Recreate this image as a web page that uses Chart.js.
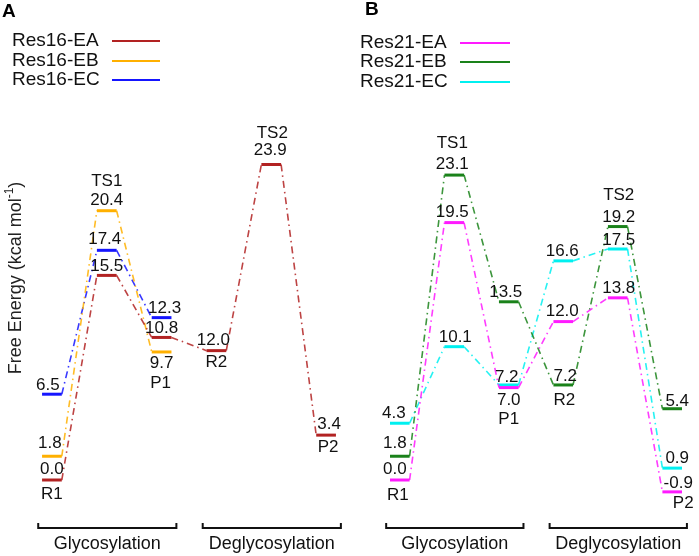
<!DOCTYPE html>
<html lang="en">
<head>
    <meta charset="UTF-8">
    <title>Free energy profiles</title>
    <script src="https://cdn.jsdelivr.net/npm/chart.js"></script>
    <style>
        body { margin: 0; background: #fff; }
        #wrap { position: relative; width: 699px; height: 556px; }
        canvas { position: absolute; top: 0; }
    </style>
</head>
<body>
    <div id="wrap">
        <canvas id="chartA" width="350" height="556" style="left:0"></canvas>
        <canvas id="chartB" width="349" height="556" style="left:350px"></canvas>
    </div>

    <script>
        // states along the reaction path
        const states = ['R1', 'TS1', 'P1', 'R2', 'TS2', 'P2'];
        const stages = ['Glycosylation', 'Deglycosylation'];
        const stageStates = [[0, 2], [3, 5]];

        // Panel A (kcal/mol), levels as drawn
        const res16EA = [0.0, 15.5, 10.8, 9.8, 23.9, 3.4];
        const res16EB = [1.8, 20.4, 9.7, null, null, null];
        const res16EC = [6.5, 17.4, 12.3, null, null, null];
        // printed values (R2 of EA is drawn lower than its label)
        const res16EALabels = ['0.0', '15.5', '10.8', '12.0', '23.9', '3.4'];

        // Panel B (kcal/mol)
        const res21EA = [0.0, 19.5, 7.0, 12.0, 13.8, -0.9];
        const res21EB = [1.8, 23.1, 13.5, 7.2, 19.2, 5.4];
        const res21EC = [4.3, 10.1, 7.2, 16.6, 17.5, 0.9];

        Chart.defaults.font.family = '"Liberation Sans", Arial, sans-serif';
        Chart.defaults.color = '#111';

        const HALF = 0.18; // half width of an energy level, in state units

        function fmt(v) { return v.toFixed(1); }

        // two points per level, connectors join right end to next left end
        function levelPoints(values) {
            const pts = [];
            values.forEach((v, i) => {
                if (v === null) return;
                pts.push({ x: i - HALF, y: v });
                pts.push({ x: i + HALF, y: v });
            });
            return pts;
        }

        function withAlpha(hex, a) {
            const n = parseInt(hex.slice(1), 16);
            return `rgba(${n >> 16}, ${(n >> 8) & 255}, ${n & 255}, ${a})`;
        }

        function makeDataset(label, values, color, labels, offsets) {
            return {
                label: label,
                data: levelPoints(values),
                values: values,
                valueLabels: labels || values.map(v => v === null ? null : fmt(v)),
                offsets: offsets,
                borderColor: color,
                pointRadius: 0,
                tension: 0,
                borderWidth: 3,
                segment: {
                    borderDash: ctx => ctx.p0DataIndex % 2 === 0 ? undefined : [7, 4, 1.5, 4],
                    borderWidth: ctx => ctx.p0DataIndex % 2 === 0 ? 3 : 1.6,
                    borderColor: ctx => ctx.p0DataIndex % 2 === 0 ? color : withAlpha(color, 0.85)
                }
            };
        }

        // annotations: values, state names, stage brackets, legend, titles
        const annotate = {
            id: 'annotate',
            afterDatasetsDraw(chart, args, opts) {
                const ctx = chart.ctx;
                const xs = chart.scales.x;
                const ys = chart.scales.y;
                ctx.save();
                ctx.fillStyle = '#111';
                ctx.textAlign = 'center';
                ctx.textBaseline = 'middle';

                // value labels
                ctx.font = '17px "Liberation Sans", Arial, sans-serif';
                chart.data.datasets.forEach(ds => {
                    ds.values.forEach((v, i) => {
                        if (v === null) return;
                        const off = ds.offsets[i];
                        ctx.fillText(ds.valueLabels[i], xs.getPixelForValue(i) + off[0], ys.getPixelForValue(v) + off[1]);
                    });
                });

                // state names above the highest or below the lowest level
                states.forEach((s, i) => {
                    const vals = chart.data.datasets.map(ds => ds.values[i]).filter(v => v !== null);
                    if (!vals.length) return;
                    const o = opts.stateOffsets[i];
                    const ref = o[1] < 0 ? Math.max(...vals) : Math.min(...vals);
                    ctx.fillText(s, xs.getPixelForValue(i) + o[0], ys.getPixelForValue(ref) + o[1]);
                });

                // stage brackets
                ctx.font = '18px "Liberation Sans", Arial, sans-serif';
                ctx.strokeStyle = '#111';
                ctx.lineWidth = 2;
                stages.forEach((name, k) => {
                    const x0 = xs.getPixelForValue(stageStates[k][0] - 0.25);
                    const x1 = xs.getPixelForValue(stageStates[k][1] + 0.27);
                    ctx.beginPath();
                    ctx.moveTo(x0, 523);
                    ctx.lineTo(x0, 528);
                    ctx.lineTo(x1, 528);
                    ctx.lineTo(x1, 523);
                    ctx.stroke();
                    ctx.fillText(name, (x0 + x1) / 2, 544);
                });

                // legend: text then a solid line
                ctx.textAlign = 'left';
                ctx.font = '19px "Liberation Sans", Arial, sans-serif';
                chart.data.datasets.forEach((ds, k) => {
                    const y = opts.legendY[k];
                    ctx.fillStyle = '#111';
                    ctx.fillText(ds.label, opts.legendX, y);
                    ctx.strokeStyle = ds.borderColor;
                    ctx.lineWidth = 2;
                    ctx.beginPath();
                    ctx.moveTo(opts.legendLine[0], y);
                    ctx.lineTo(opts.legendLine[1], y);
                    ctx.stroke();
                });

                // panel letter
                ctx.fillStyle = '#000';
                ctx.font = 'bold 19px "Liberation Sans", Arial, sans-serif';
                ctx.fillText(opts.letter, opts.letterPos[0], opts.letterPos[1]);

                // y axis title with superscript
                if (opts.yTitle) {
                    ctx.translate(16, 278);
                    ctx.rotate(-Math.PI / 2);
                    const main = 'Free Energy (kcal mol';
                    const big = '18px "Liberation Sans", Arial, sans-serif';
                    const small = '12px "Liberation Sans", Arial, sans-serif';
                    ctx.font = big;
                    const w1 = ctx.measureText(main).width;
                    const w3 = ctx.measureText(')').width;
                    ctx.font = small;
                    const w2 = ctx.measureText('-1').width;
                    let x = -(w1 + w2 + w3) / 2;
                    ctx.font = big;
                    ctx.fillStyle = '#222';
                    ctx.fillText(main, x, 0);
                    x += w1;
                    ctx.font = small;
                    ctx.fillText('-1', x, -6);
                    x += w2;
                    ctx.font = big;
                    ctx.fillText(')', x, 0);
                }
                ctx.restore();
            }
        };

        function makeChart(id, datasets, padding, annotateOpts) {
            return new Chart(document.getElementById(id), {
                type: 'line',
                data: { datasets: datasets },
                options: {
                    responsive: false,
                    animation: false,
                    layout: { padding: padding },
                    scales: {
                        x: { type: 'linear', min: -0.4, max: 5.4, display: false },
                        y: { type: 'linear', min: -5, max: 30, display: false }
                    },
                    plugins: {
                        legend: { display: false },
                        tooltip: { enabled: false },
                        annotate: annotateOpts
                    }
                },
                plugins: [annotate]
            });
        }

        // Panel A
        makeChart('chartA', [
            makeDataset('Res16-EA', res16EA, '#b22222', res16EALabels,
                [[0, -11], [0, -9], [0, -9], [-3, -10], [-1, -14], [3, -11]]),
            makeDataset('Res16-EB', res16EB, '#ffb000', null,
                [[-2, -13], [0, -10], [0, 11]]),
            makeDataset('Res16-EC', res16EC, '#1515ff', null,
                [[-4, -9], [-2, -11], [3, -9]])
        ], { left: 30, right: 2, top: 84, bottom: 10 }, {
            stateOffsets: [[0, 14], [0, -29], [-1, 31], [0, 12], [1, -31], [2, 12]],
            legendX: 12, legendY: [41, 61, 80], legendLine: [112, 160],
            letter: 'A', letterPos: [2, 12], yTitle: true
        });

        // Panel B
        makeChart('chartB', [
            makeDataset('Res21-EA', res21EA, '#ff1aff', null,
                [[-5, -11], [-2, -10], [0, 13], [-1, -10], [1, -10], [6, -9]]),
            makeDataset('Res21-EB', res21EB, '#1a821a', null,
                [[-5, -13], [-2, -11], [-3, -9], [2, -9], [1, -9], [5, -7]]),
            makeDataset('Res21-EC', res21EC, '#00f0f0', null,
                [[-6, -10], [1, -9], [-2, -8], [-1, -10], [1, -9], [5, -10]])
        ], { left: 28, right: 5, top: 84, bottom: 10 }, {
            stateOffsets: [[-2, 15], [-2, -32], [0, 32], [1, 15], [1, -31], [11, 11]],
            legendX: 10, legendY: [43, 62, 82], legendLine: [110, 160],
            letter: 'B', letterPos: [15, 10], yTitle: false
        });
    </script>
</body>
</html>
